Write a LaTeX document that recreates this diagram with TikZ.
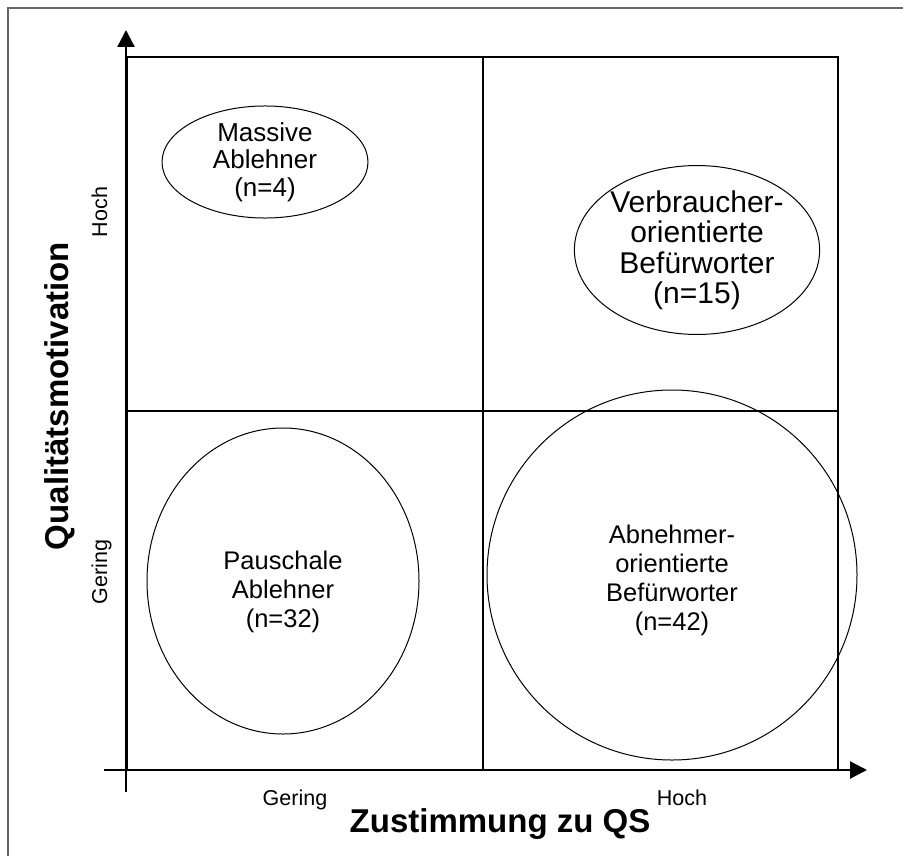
\documentclass[tikz,border=0pt]{standalone}
\usepackage{fontspec}
\setmainfont{Liberation Sans}
\usetikzlibrary{shapes.geometric,arrows.meta}

\tikzset{
    group/.style={ellipse,draw,line width=0.5pt,align=center,inner sep=0pt},
    grouptext/.style={align=center,inner sep=0pt,font=\fontsize{12.75}{14.5}\selectfont},
    level/.style={font=\fontsize{10.75}{13}\selectfont},
    axistitle/.style={font=\bfseries\fontsize{16.5}{19}\selectfont},
    quad/.style={line width=1.4pt},
    axis/.style={line width=1.2pt,-{Triangle[length=8.5pt,width=8.5pt]}},
}

\begin{document}
\begin{tikzpicture}[x=0.5pt,y=-0.5pt]
    \useasboundingbox (0,0) rectangle (903,856);
    \draw[black!60,line width=0.8pt] (8,856) -- (8,8) -- (903,8);

    % quadrants
    \draw[quad] (127,57) rectangle (838,770);
    \draw[quad] (483,57) -- (483,770)
                (127,411) -- (838,411);

    % axes
    \coordinate (ybot) at (126,792);
    \coordinate (ytop) at (126,30);
    \coordinate (xleft) at (104,770);
    \coordinate (xright) at (867,770);
    \draw[axis] (ybot) -- (ytop);
    \draw[axis] (xleft) -- (xright);

    % groups
    \node[group,minimum width=103pt,minimum height=48pt,
          font=\fontsize{13}{13.75}\selectfont] (massiv) at (265,162)
          {Massive\\Ablehner\\(n=4)};
    \node[group,minimum width=117pt,minimum height=80pt,
          font=\fontsize{15}{15.25}\selectfont] (verbr) at (697,250)
          {Verbraucher-\\orientierte\\Befürworter\\(n=15)};
    \node[group,minimum width=136pt,minimum height=153pt] (pausch) at (283,581) {};
    \node[grouptext] (pauschtxt) at (283,592) {Pauschale\\Ablehner\\(n=32)};
    \node[group,minimum width=185pt,minimum height=185pt] (abn) at (672,575) {};
    \node[grouptext] (abntxt) at (672,580) {Abnehmer-\\orientierte\\Befürworter\\(n=42)};

    % labels
    \node[level,anchor=base] (xlow) at (295,805) {Gering};
    \node[level,anchor=base] (xhigh) at (682,805) {Hoch};
    \node[level,anchor=base,rotate=90] (ylow) at (107,572) {Gering};
    \node[level,anchor=base,rotate=90] (yhigh) at (107,212) {Hoch};
    \node[axistitle,anchor=base] (xtitle) at (500,832) {Zustimmung zu QS};
    \node[axistitle,anchor=base,rotate=90] (ytitle) at (68,396) {Qualitätsmotivation};
\end{tikzpicture}
\end{document}
